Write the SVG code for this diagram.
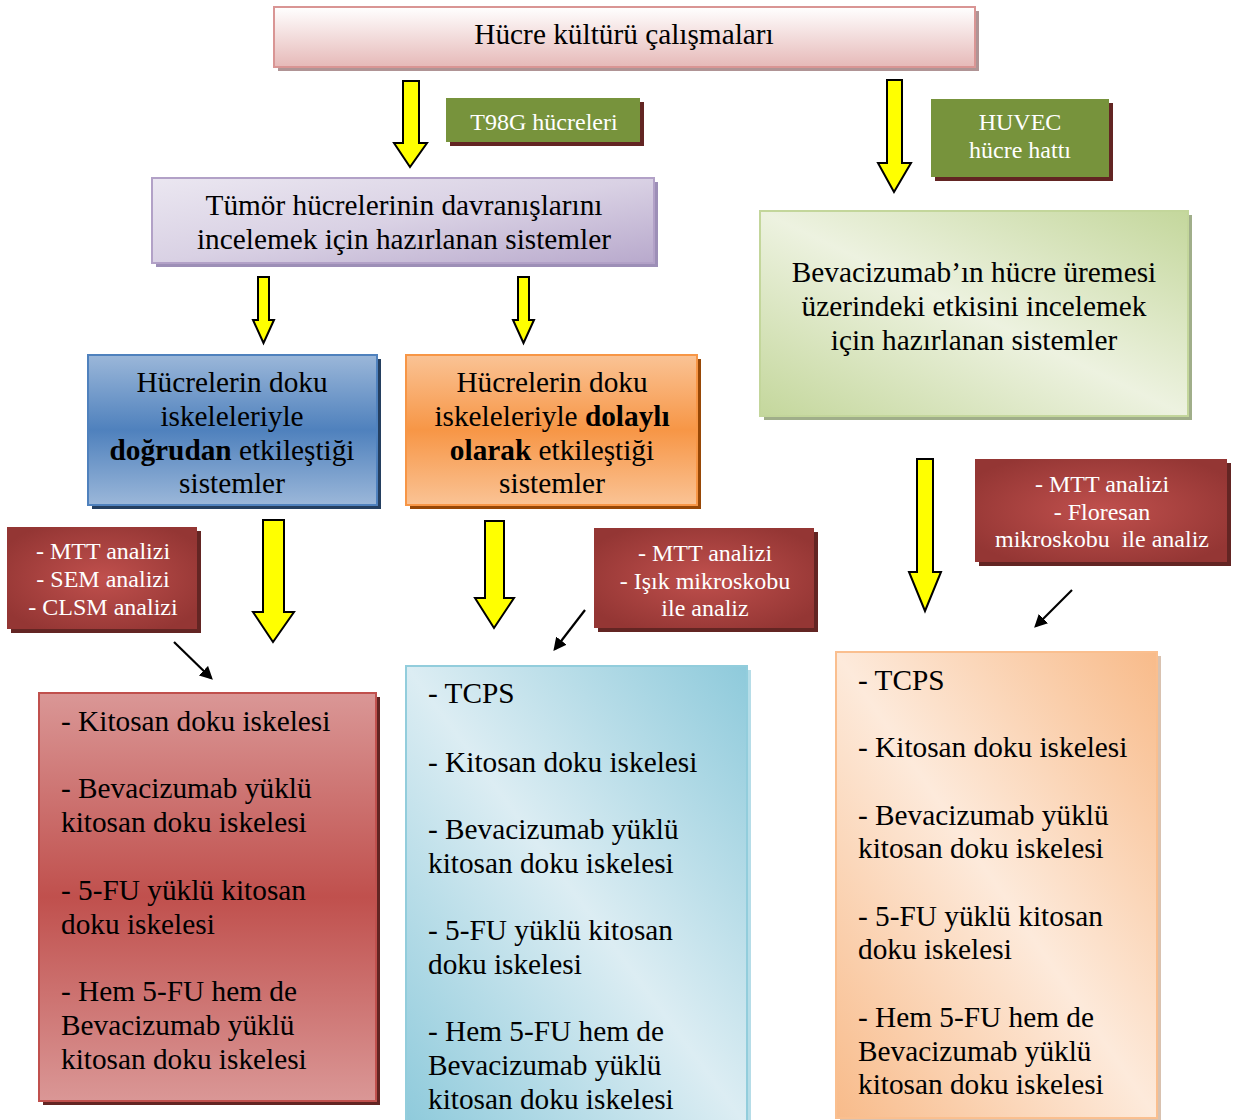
<svg xmlns="http://www.w3.org/2000/svg" width="1238" height="1120" viewBox="0 0 1238 1120">
<style>
  text { font-family: "Liberation Serif", "Times New Roman", serif; fill: #000; }
  .t26 { font-size: 29.3px; }
  .t21 { font-size: 24px; fill: #fff; }
  .t22 { font-size: 24px; fill: #fff; }
  .mid { text-anchor: middle; }
  .yarrow { fill: #ffff00; stroke: #000; stroke-width: 2; stroke-linejoin: miter; }
  .barrow { stroke: #000; stroke-width: 2.2; fill: none; }
  .b { font-weight: bold; }
</style>
<defs>
  <linearGradient id="gTop" x1="0" y1="0" x2="0" y2="1">
    <stop offset="0" stop-color="#ffffff"/>
    <stop offset="1" stop-color="#e6b9b8"/>
  </linearGradient>
  <linearGradient id="gPurple" x1="0" y1="0" x2="1" y2="1">
    <stop offset="0" stop-color="#ebe7f1"/>
    <stop offset="0.5" stop-color="#d9d1e4"/>
    <stop offset="1" stop-color="#b8a9cc"/>
  </linearGradient>
  <linearGradient id="gBlue" x1="0" y1="0" x2="0" y2="1">
    <stop offset="0" stop-color="#9bb7d9"/>
    <stop offset="0.5" stop-color="#4f81bd"/>
    <stop offset="1" stop-color="#9bb7d9"/>
  </linearGradient>
  <linearGradient id="gOrange" x1="0" y1="0" x2="0" y2="1">
    <stop offset="0" stop-color="#fac395"/>
    <stop offset="0.5" stop-color="#f79646"/>
    <stop offset="1" stop-color="#fac395"/>
  </linearGradient>
  <linearGradient id="gGreen" x1="1" y1="0" x2="0" y2="1">
    <stop offset="0" stop-color="#c4d79c"/>
    <stop offset="0.5" stop-color="#edf2e0"/>
    <stop offset="1" stop-color="#c4d79c"/>
  </linearGradient>
  <linearGradient id="gCyan" x1="1" y1="0" x2="0" y2="1">
    <stop offset="0" stop-color="#8ecadb"/>
    <stop offset="0.5" stop-color="#dcedf3"/>
    <stop offset="1" stop-color="#8ecadb"/>
  </linearGradient>
  <linearGradient id="gPeach" x1="1" y1="0" x2="0" y2="1">
    <stop offset="0" stop-color="#f8bb8a"/>
    <stop offset="0.5" stop-color="#fdeadb"/>
    <stop offset="1" stop-color="#f8bb8a"/>
  </linearGradient>
  <linearGradient id="gRed" x1="0" y1="0" x2="0" y2="1">
    <stop offset="0" stop-color="#da9796"/>
    <stop offset="0.5" stop-color="#c0504d"/>
    <stop offset="1" stop-color="#da9796"/>
  </linearGradient>
  <radialGradient id="gDark" cx="0.5" cy="0.5" r="0.6">
    <stop offset="0" stop-color="#c0504d"/>
    <stop offset="1" stop-color="#943634"/>
  </radialGradient>
  <marker id="ah" viewBox="0 0 10 10" refX="8" refY="5" markerWidth="6" markerHeight="6" orient="auto" markerUnits="strokeWidth">
    <path d="M0,0 L10,5 L0,10 z" fill="#000"/>
  </marker>
</defs>

<g id="connectors">
  <polygon class="yarrow" points="403,81 419,81 419,143 427,143 410,167 394,143 403,143"/>
  <polygon class="yarrow" points="887,80 902,80 902,163 911,163 894,192 878,163 887,163"/>
  <polygon class="yarrow" points="258,277 269,277 269,320 274,320 263.5,343 253,320 258,320"/>
  <polygon class="yarrow" points="518,277 529,277 529,320 534,320 523.5,343 513,320 518,320"/>
  <polygon class="yarrow" points="263,520 284,520 284,612 294,612 273,642 253,612 263,612"/>
  <polygon class="yarrow" points="485,521 504,521 504,598 514,598 494,628 475,598 485,598"/>
  <polygon class="yarrow" points="917,459 933,459 933,572 941,572 925,611 909,572 917,572"/>
  <line class="barrow" x1="174" y1="642" x2="211" y2="678" marker-end="url(#ah)"/>
  <line class="barrow" x1="585" y1="610" x2="555" y2="649" marker-end="url(#ah)"/>
  <line class="barrow" x1="1072" y1="590" x2="1036" y2="626" marker-end="url(#ah)"/>
</g>

<g id="node-top">
  <rect x="278" y="11" width="701" height="60" fill="#b09495"/>
  <rect x="274" y="7" width="701" height="60" fill="url(#gTop)" stroke="#d99594" stroke-width="2"/>
  <text class="t26 mid" x="624" y="44">Hücre kültürü çalışmaları</text>
</g>

<g id="node-t98g">
  <rect x="450" y="102" width="194" height="44" fill="#632523"/>
  <rect x="446" y="98" width="194" height="44" fill="#77933c"/>
  <text class="t22 mid" x="544" y="130">T98G hücreleri</text>
</g>

<g id="node-huvec">
  <rect x="935" y="103" width="178" height="78" fill="#632523"/>
  <rect x="931" y="99" width="178" height="78" fill="#77933c"/>
  <text class="t22 mid" x="1020" y="130">HUVEC</text>
  <text class="t22 mid" x="1020" y="158">hücre hattı</text>
</g>

<g id="node-tumor">
  <rect x="156" y="182" width="502" height="85" fill="#9d8fb7"/>
  <rect x="152" y="178" width="502" height="85" fill="url(#gPurple)" stroke="#b2a1c7" stroke-width="2"/>
  <text class="t26 mid" x="404" y="215">Tümör hücrelerinin davranışlarını</text>
  <text class="t26 mid" x="404" y="249">incelemek için hazırlanan sistemler</text>
</g>

<g id="node-bev">
  <rect x="764" y="215" width="428" height="205" fill="#a0ae8a"/>
  <rect x="760" y="211" width="428" height="205" fill="url(#gGreen)" stroke="#c3d69b" stroke-width="2"/>
  <text class="t26 mid" x="974" y="282">Bevacizumab’ın hücre üremesi</text>
  <text class="t26 mid" x="974" y="316">üzerindeki etkisini incelemek</text>
  <text class="t26 mid" x="974" y="350">için hazırlanan sistemler</text>
</g>

<g id="node-direct">
  <rect x="92" y="359" width="289" height="150" fill="#243f60"/>
  <rect x="88" y="355" width="289" height="150" fill="url(#gBlue)" stroke="#4f81bd" stroke-width="2"/>
  <text class="t26 mid" x="232" y="392">Hücrelerin doku</text>
  <text class="t26 mid" x="232" y="426">iskeleleriyle</text>
  <text class="t26 mid" x="232" y="460"><tspan class="b">doğrudan</tspan> etkileştiği</text>
  <text class="t26 mid" x="232" y="493">sistemler</text>
</g>

<g id="node-indirect">
  <rect x="410" y="359" width="291" height="150" fill="#974706"/>
  <rect x="406" y="355" width="291" height="150" fill="url(#gOrange)" stroke="#f79646" stroke-width="2"/>
  <text class="t26 mid" x="552" y="392">Hücrelerin doku</text>
  <text class="t26 mid" x="552" y="426">iskeleleriyle <tspan class="b">dolaylı</tspan></text>
  <text class="t26 mid" x="552" y="460"><tspan class="b">olarak</tspan> etkileştiği</text>
  <text class="t26 mid" x="552" y="493">sistemler</text>
</g>

<g id="node-analysis-left">
  <rect x="11" y="531" width="190" height="102" fill="#632523"/>
  <rect x="7" y="527" width="190" height="102" fill="url(#gDark)"/>
  <text class="t21 mid" x="103" y="559">- MTT analizi</text>
  <text class="t21 mid" x="103" y="587">- SEM analizi</text>
  <text class="t21 mid" x="103" y="615">- CLSM analizi</text>
</g>

<g id="node-analysis-mid">
  <rect x="598" y="532" width="220" height="100" fill="#632523"/>
  <rect x="594" y="528" width="220" height="100" fill="url(#gDark)"/>
  <text class="t21 mid" x="705" y="561">- MTT analizi</text>
  <text class="t21 mid" x="705" y="589">- Işık mikroskobu</text>
  <text class="t21 mid" x="705" y="616">ile analiz</text>
</g>

<g id="node-analysis-right">
  <rect x="979" y="463" width="252" height="103" fill="#632523"/>
  <rect x="975" y="459" width="252" height="103" fill="url(#gDark)"/>
  <text class="t21 mid" x="1102" y="492">- MTT analizi</text>
  <text class="t21 mid" x="1102" y="520">- Floresan</text>
  <text class="t21 mid" x="1102" y="547" xml:space="preserve">mikroskobu  ile analiz</text>
</g>

<g id="node-list-left">
  <rect x="43" y="697" width="337" height="408" fill="#632523"/>
  <rect x="39" y="693" width="337" height="408" fill="url(#gRed)" stroke="#c0504d" stroke-width="2"/>
  <text class="t26" x="61" y="731">- Kitosan doku iskelesi</text>
  <text class="t26" x="61" y="798">- Bevacizumab yüklü</text>
  <text class="t26" x="61" y="832">kitosan doku iskelesi</text>
  <text class="t26" x="61" y="900">- 5-FU yüklü kitosan</text>
  <text class="t26" x="61" y="934">doku iskelesi</text>
  <text class="t26" x="61" y="1001">- Hem 5-FU hem de</text>
  <text class="t26" x="61" y="1035">Bevacizumab yüklü</text>
  <text class="t26" x="61" y="1069">kitosan doku iskelesi</text>
</g>

<g id="node-list-mid">
  <rect x="410" y="670" width="341" height="460" fill="#b6dde8"/>
  <rect x="406" y="666" width="341" height="460" fill="url(#gCyan)" stroke="#92cddc" stroke-width="2"/>
  <text class="t26" x="428" y="703">- TCPS</text>
  <text class="t26" x="428" y="772">- Kitosan doku iskelesi</text>
  <text class="t26" x="428" y="839">- Bevacizumab yüklü</text>
  <text class="t26" x="428" y="873">kitosan doku iskelesi</text>
  <text class="t26" x="428" y="940">- 5-FU yüklü kitosan</text>
  <text class="t26" x="428" y="974">doku iskelesi</text>
  <text class="t26" x="428" y="1041">- Hem 5-FU hem de</text>
  <text class="t26" x="428" y="1075">Bevacizumab yüklü</text>
  <text class="t26" x="428" y="1109">kitosan doku iskelesi</text>
</g>

<g id="node-list-right">
  <rect x="840" y="656" width="321" height="466" fill="#d9c2b0"/>
  <rect x="836" y="652" width="321" height="466" fill="url(#gPeach)" stroke="#fabf8f" stroke-width="2"/>
  <text class="t26" x="858" y="690">- TCPS</text>
  <text class="t26" x="858" y="757">- Kitosan doku iskelesi</text>
  <text class="t26" x="858" y="825">- Bevacizumab yüklü</text>
  <text class="t26" x="858" y="858">kitosan doku iskelesi</text>
  <text class="t26" x="858" y="926">- 5-FU yüklü kitosan</text>
  <text class="t26" x="858" y="959">doku iskelesi</text>
  <text class="t26" x="858" y="1027">- Hem 5-FU hem de</text>
  <text class="t26" x="858" y="1061">Bevacizumab yüklü</text>
  <text class="t26" x="858" y="1094">kitosan doku iskelesi</text>
</g>
</svg>
